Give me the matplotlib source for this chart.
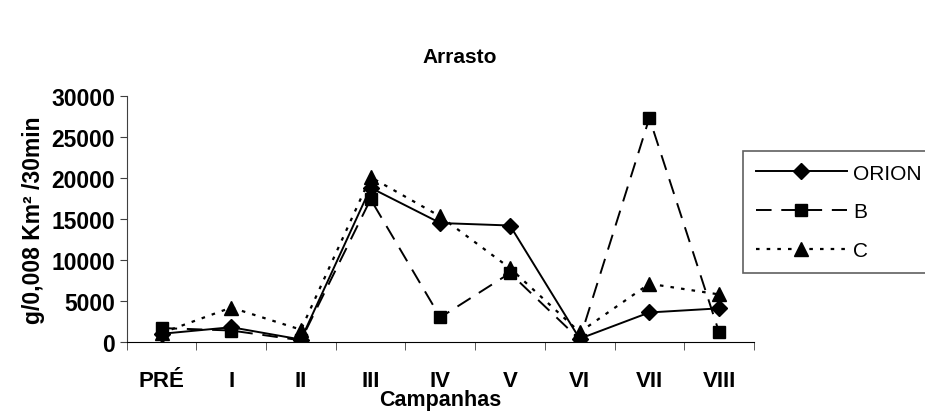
import matplotlib.pyplot as plt
import numpy as np

plt.rcParams['font.family'] = ['Liberation Sans', 'DejaVu Sans']

# Campanhas de arrasto
campanhas = ['PRÉ', 'I', 'II', 'III', 'IV', 'V', 'VI', 'VII', 'VIII']
orion = [1000, 1800, 300, 18800, 14500, 14200, 400, 3600, 4100]
b = [1700, 1400, 200, 17400, 3000, 8400, 300, 27300, 1200]
c = [1100, 4200, 1500, 20100, 15300, 9000, 1200, 7100, 5800]

fig = plt.figure(figsize=(9.25, 4.14), dpi=100)
ax = fig.add_axes([0.137, 0.1715, 0.678, 0.5945])

x = np.arange(len(campanhas))
l1, = ax.plot(x, orion, color='black', lw=1.4, marker='D', ms=8, label='ORION')
l2, = ax.plot(x, b, color='black', lw=1.4, dashes=(8, 5), marker='s', ms=9, label='B')
l3, = ax.plot(x, c, color='black', lw=1.6, dashes=(1.6, 3.2), marker='^', ms=10, label='C')

ax.set_xlim(-0.5, len(campanhas) - 0.5)
ax.set_ylim(0, 30000)
ax.set_yticks(range(0, 30001, 5000))
ax.set_xticks(x)
ax.set_xticklabels(campanhas, fontsize=16, fontweight='bold')
ax.set_xticks(np.arange(-0.5, len(campanhas)), minor=True)
ax.tick_params(axis='x', which='major', length=0, pad=20)
ax.tick_params(axis='x', which='minor', length=6, direction='out', color='#404040')
ax.tick_params(axis='y', labelsize=16.5, length=5, color='#404040')
for t in ax.get_yticklabels():
    t.set_fontweight('bold')

for s in ['top', 'right']:
    ax.spines[s].set_visible(False)
ax.spines['left'].set_color('#404040')
ax.spines['bottom'].set_color('black')

ax.set_ylabel('g/0,008 Km² /30min', fontsize=16.5, fontweight='bold', labelpad=4)
ax.set_xlabel('Campanhas', fontsize=15.5, fontweight='bold', labelpad=-1)
fig.suptitle('Arrasto', x=0.497, y=0.885, fontsize=15, fontweight='bold')

# a legenda fica encostada na borda direita, como no original
leg = fig.legend(handles=[l1, l2, l3], loc='upper left',
                 bbox_to_anchor=(743 / 925, 1 - 152 / 414), borderaxespad=0,
                 fontsize=15, handlelength=4.4, numpoints=1,
                 fancybox=False, framealpha=1, edgecolor='#606060',
                 borderpad=0.6, labelspacing=0.95, handletextpad=0.3)
leg.get_frame().set_linewidth(1.2)

fig.savefig('out.png', dpi=100)
